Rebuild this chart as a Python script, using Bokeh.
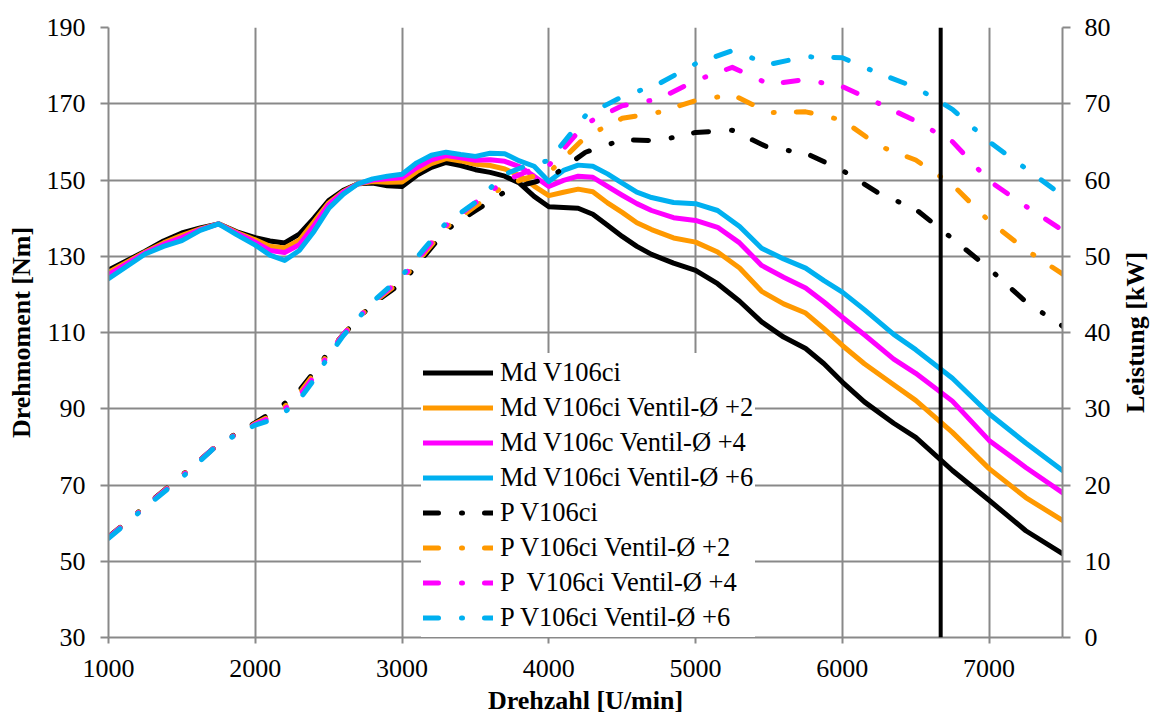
import math
from bokeh.plotting import figure
from bokeh.models import Range1d, LinearAxis, FixedTicker, Legend, LegendItem, Span, Label
from bokeh.embed import file_html
from bokeh.resources import INLINE

# ---------------- data ----------------
# torque curves (Nm)
rpm_md = [1000, 1250, 1375, 1500, 1625, 1750, 1875, 2000, 2100, 2200, 2300, 2400, 2500, 2600, 2700,
          2800, 2900, 3000, 3100, 3200, 3300, 3400, 3500, 3600, 3700, 3800, 3900, 4000, 4100, 4200,
          4300, 4400, 4500, 4600, 4700, 4850, 5000, 5150, 5300, 5450, 5600, 5750, 5875, 6000, 6150,
          6350, 6500, 6750, 7000, 7250, 7500]
md_v106ci = [126.4, 131.3, 134.0, 136.1, 137.4, 138.5, 136.4, 134.9, 134.0, 133.5, 135.8, 140.0, 144.6, 147.3, 149.0,
             149.2, 148.5, 148.3, 151.2, 153.3, 154.6, 153.8, 152.7, 152.0, 151.0, 149.2, 145.7, 143.0, 142.8, 142.6,
             141.0, 138.1, 135.2, 132.6, 130.5, 128.2, 126.3, 122.8, 118.2, 112.8, 108.8, 105.8, 101.8, 97.0, 91.8,
             86.2, 82.5, 73.8, 66.0, 58.0, 52.0]
md_v2 = [125.8, 131.1, 133.5, 135.5, 137.2, 138.5, 136.2, 134.3, 132.6, 132.2, 134.2, 139.0, 144.0, 147.0, 149.0,
         149.6, 149.4, 149.5, 152.2, 154.3, 155.6, 155.0, 154.1, 153.8, 152.9, 151.2, 148.4, 145.9, 146.8, 147.6,
         146.9, 144.0, 141.5, 138.8, 137.0, 134.8, 133.7, 131.1, 126.9, 120.8, 117.5, 115.1, 111.0, 106.6, 101.8,
         96.3, 92.2, 83.8, 74.3, 66.7, 60.7]
md_v4 = [125.2, 130.9, 133.1, 134.9, 137.0, 138.5, 136.0, 133.7, 131.5, 131.0, 133.0, 138.0, 143.5, 146.8, 149.0,
         150.0, 150.3, 150.6, 153.2, 155.3, 156.4, 155.8, 155.2, 155.3, 154.9, 153.5, 151.0, 148.3, 149.9, 151.0,
         150.7, 148.3, 146.0, 143.8, 142.0, 140.1, 139.4, 137.6, 133.5, 127.6, 124.5, 121.7, 118.0, 114.0, 109.4,
         103.0, 99.3, 92.0, 81.7, 74.6, 68.0]
md_v6 = [124.1, 130.6, 132.6, 134.1, 136.8, 138.5, 135.6, 132.9, 130.3, 128.9, 131.5, 136.5, 142.5, 146.3, 149.0,
         150.3, 151.0, 151.5, 154.5, 156.5, 157.3, 156.7, 156.2, 157.0, 156.9, 155.0, 153.6, 149.6, 152.5, 153.9,
         153.6, 151.6, 149.2, 146.8, 145.4, 144.1, 143.8, 142.0, 137.8, 132.1, 129.3, 126.9, 123.6, 120.6, 116.0,
         109.5, 105.5, 98.0, 88.7, 81.0, 73.8]

# power curves (kW)
rpm_p = [1000, 1250, 1500, 1750, 2000, 2100, 2200, 2300, 2400, 2500, 2600, 2800, 3000, 3150, 3300,
         3500, 3700, 3850, 4000, 4250, 4500, 4750, 5000, 5250, 5500, 5750, 6000, 6250, 6500, 6750,
         7000, 7250, 7500]
p_v106ci = [13.19, 17.21, 21.28, 25.38, 28.17, 29.36, 30.69, 32.39, 34.81, 37.44, 39.75, 43.78, 46.50, 49.97, 53.43,
            55.97, 58.43, 59.47, 60.19, 63.64, 65.27, 65.16, 66.24, 66.52, 64.22, 63.53, 61.26, 58.25, 56.16, 52.31,
            48.38, 44.03, 40.84]
p_v2 = [13.14, 17.19, 21.21, 25.38, 28.06, 29.03, 30.30, 32.03, 34.56, 37.31, 39.75, 43.84, 46.87, 50.30, 53.77,
        56.55, 59.28, 60.27, 60.95, 65.65, 68.09, 68.89, 70.42, 71.20, 68.83, 68.94, 67.86, 64.47, 62.62, 59.38,
        54.61, 50.87, 47.67]
p_v4 = [13.09, 17.15, 21.13, 25.38, 27.96, 28.81, 29.95, 31.67, 34.18, 37.18, 39.75, 43.98, 47.12, 50.63, 54.05,
        57.03, 59.90, 61.08, 61.91, 67.38, 69.74, 70.63, 73.04, 74.77, 72.57, 73.16, 72.26, 70.03, 67.73, 65.03,
        59.89, 56.56, 53.41]
p_v6 = [12.99, 17.08, 20.97, 25.38, 27.86, 28.48, 29.54, 31.19, 33.80, 36.91, 39.59, 44.04, 47.44, 50.96, 54.36,
        57.07, 60.75, 61.89, 62.54, 68.45, 70.92, 72.62, 75.24, 76.97, 75.16, 76.17, 76.03, 73.96, 72.15, 69.27,
        65.02, 61.50, 57.96]

md_labels = ["Md V106ci", "Md V106ci Ventil-Ø +2", "Md V106c Ventil-Ø +4", "Md V106ci Ventil-Ø +6"]
p_labels = ["P V106ci", "P V106ci Ventil-Ø +2", "P  V106ci Ventil-Ø +4", "P V106ci Ventil-Ø +6"]
colors = ["#000000", "#FF9900", "#FF00FF", "#00B0F0"]

x_ticks = [1000, 2000, 3000, 4000, 5000, 6000, 7000]
y_ticks = [30, 50, 70, 90, 110, 130, 150, 170, 190]
y2_ticks = [0, 10, 20, 30, 40, 50, 60, 70, 80]
marker_rpm = 6670

x_title = "Drehzahl [U/min]"
y_title = "Drehmoment [Nm]"
y2_title = "Leistung [kW]"

# ---------------- figure ----------------
FONT = "Liberation Serif"
GRID = "#898989"

p = figure(width=1150, height=717, output_backend="svg", toolbar_location=None,
           x_range=Range1d(1000, 7500), y_range=Range1d(30, 190),
           min_border_left=108, min_border_right=88, min_border_top=27, min_border_bottom=80,
           x_axis_label=x_title, y_axis_label=y_title)
p.extra_y_ranges = {"kw": Range1d(0, 80)}
p.outline_line_color = None
p.background_fill_color = "white"
p.border_fill_color = "white"

ax2 = LinearAxis(y_range_name="kw")
p.add_layout(ax2, "right")

p.xaxis[0].ticker = FixedTicker(ticks=x_ticks)
p.yaxis[0].ticker = FixedTicker(ticks=y_ticks)
ax2.ticker = FixedTicker(ticks=y2_ticks)

for ax in [p.xaxis[0], p.yaxis[0], ax2]:
    ax.axis_line_color = GRID
    ax.axis_line_width = 2
    ax.major_tick_line_color = GRID
    ax.major_tick_line_width = 2
    ax.major_tick_in = 0
    ax.minor_tick_line_color = None
    ax.major_label_text_font = FONT
    ax.major_label_text_font_size = "26px"
    ax.major_label_text_color = "black"
for ax in [p.xaxis[0], p.yaxis[0]]:
    ax.axis_label_text_font = FONT
    ax.axis_label_text_font_size = "26px"
    ax.axis_label_text_font_style = "bold"
    ax.axis_label_text_color = "black"

p.xaxis[0].major_tick_out = 6
p.xaxis[0].major_label_standoff = 16
p.xaxis[0].axis_label_standoff = 6
p.yaxis[0].major_tick_out = 8
p.yaxis[0].major_label_standoff = 15
p.yaxis[0].axis_label_standoff = 8
ax2.major_tick_out = 8
ax2.major_label_standoff = 14

p.xgrid.ticker = FixedTicker(ticks=x_ticks)
p.ygrid.ticker = FixedTicker(ticks=y_ticks)
p.grid.grid_line_color = GRID
p.grid.grid_line_width = 2

items = []
for ys, c, lab in zip([md_v106ci, md_v2, md_v4, md_v6], colors, md_labels):
    r = p.line(rpm_md, ys, line_color=c, line_width=5, line_join="round", line_cap="round")
    items.append(LegendItem(label=lab, renderers=[r]))
for ys, c, lab in zip([p_v106ci, p_v2, p_v4, p_v6], colors, p_labels):
    r = p.line(rpm_p, ys, y_range_name="kw", line_color=c, line_width=5, line_join="round",
               line_cap="round", line_dash="15 23 1 22")
    items.append(LegendItem(label=lab, renderers=[r]))

p.add_layout(Span(location=marker_rpm, dimension="height", line_color="black", line_width=4))

legend = Legend(items=items, location=(313, 0), glyph_width=70, glyph_height=35, label_height=35,
                spacing=0, padding=2, margin=0, label_standoff=7,
                label_text_font=FONT, label_text_font_size="26.5px", label_text_color="black",
                border_line_alpha=0, background_fill_color="white", background_fill_alpha=1)
p.add_layout(legend)

# right-hand axis title, reading bottom-to-top, placed in the right side panel
right_title = Label(x=22, y=305, x_units="screen", y_units="screen", text=y2_title,
                    angle=math.pi / 2, text_align="center", text_baseline="middle",
                    text_font=FONT, text_font_size="26px", text_font_style="bold", text_color="black")
p.add_layout(right_title, "right")

open("out.html", "w").write(file_html(p, INLINE))
